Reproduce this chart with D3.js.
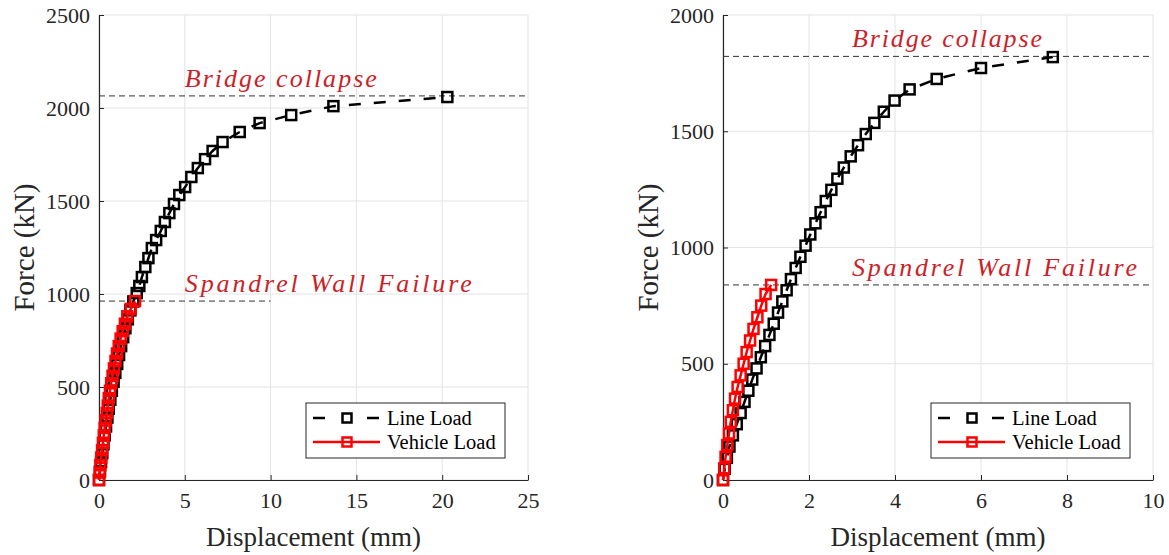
<!DOCTYPE html>
<html><head><meta charset="utf-8">
<script src="https://cdn.jsdelivr.net/npm/d3@7"></script>
<style>body{margin:0;background:#fff} svg{display:block}</style>
</head><body>
<svg id="chart" width="1169" height="555"></svg>
<script>
// ---------- DATA ----------
const seriesNames = ["Line Load", "Vehicle Load"];

// Left panel
const leftLineDisp  = [0,0.06,0.12,0.19,0.26,0.33,0.41,0.49,0.57,0.66,0.75,0.85,0.95,1.06,1.17,1.29,1.41,1.54,1.68,1.83,2.0,2.2,2.35,2.5,2.7,2.88,3.08,3.33,3.6,3.84,4.1,4.37,4.68,5.02,5.38,5.76,6.18,6.62,7.2,8.2,9.36,11.2,13.66,20.3];
const leftLineForce = [0,48,96,144,192,240,288,336,384,432,480,528,576,624,672,720,768,816,864,912,960,1005,1043,1091,1145,1193,1247,1290,1339,1387,1435,1484,1532,1575,1629,1677,1725,1769,1817,1871,1919,1962,2010,2059];
const leftVehDisp   = [0,0.04,0.08,0.13,0.18,0.23,0.28,0.33,0.39,0.45,0.51,0.57,0.64,0.71,0.79,0.87,0.96,1.05,1.15,1.26,1.38,1.51,1.65,1.85,2.1];
const leftVehForce  = [0,40,80,120,160,200,240,280,320,360,400,440,480,520,560,600,640,680,720,760,800,840,880,920,962];

// Right panel
const rightLineDisp  = [0,0.04,0.09,0.15,0.23,0.32,0.41,0.50,0.59,0.68,0.78,0.88,0.98,1.08,1.18,1.28,1.38,1.48,1.58,1.69,1.80,1.92,2.03,2.15,2.27,2.39,2.52,2.66,2.81,2.97,3.14,3.32,3.52,3.74,3.99,4.34,4.97,6.0,7.67];
const rightLineForce = [0,48,96,144,192,240,288,336,384,432,480,528,576,624,672,720,768,816,864,912,960,1008,1056,1104,1152,1200,1248,1296,1344,1392,1440,1488,1536,1584,1632,1680,1725,1772,1819];
const rightVehDisp   = [0,0.03,0.06,0.10,0.14,0.18,0.23,0.28,0.34,0.41,0.48,0.55,0.63,0.71,0.80,0.89,0.99,1.12];
const rightVehForce  = [0,50,100,150,200,250,300,350,400,450,500,550,600,650,700,750,800,839];

// Threshold lines: [force, xStart, xEnd]
const leftThresholds  = [[2065,0,25],[962,0,10]];
const rightThresholds = [[1822,0,10],[839,0,10]];
const annotationTexts = ["Bridge collapse", "Spandrel Wall Failure"];
const leftAnnoX = 5.0, rightAnnoX = 3.0;

// Ticks
const leftXTicks  = [0,5,10,15,20,25];
const leftYTicks  = [0,500,1000,1500,2000,2500];
const rightXTicks = [0,2,4,6,8,10];
const rightYTicks = [0,500,1000,1500,2000];

const xLabel = "Displacement (mm)";
const yLabel = "Force (kN)";

// ---------- DRAW ----------
const svg = d3.select("#chart");
const serif = "'Liberation Serif','Times New Roman',serif";
const annoColor = "#cc1f2a";

const panels = [
  {x0:99, x1:528, y0:480, y1:15, xd:[0,25], yd:[0,2500], xt:leftXTicks, yt:leftYTicks,
   line:[leftLineDisp,leftLineForce], veh:[leftVehDisp,leftVehForce], th:leftThresholds, ax:leftAnnoX,
   annoLen:[192,287]},
  {x0:723, x1:1153, y0:480, y1:15, xd:[0,10], yd:[0,2000], xt:rightXTicks, yt:rightYTicks,
   line:[rightLineDisp,rightLineForce], veh:[rightVehDisp,rightVehForce], th:rightThresholds, ax:rightAnnoX,
   annoLen:[190,285]}
];

panels.forEach(p => {
  const x = d3.scaleLinear().domain(p.xd).range([p.x0, p.x1]);
  const y = d3.scaleLinear().domain(p.yd).range([p.y0, p.y1]);
  const g = svg.append("g");

  // grid
  g.append("g").selectAll("line").data(p.xt).join("line")
    .attr("x1", d => x(d)).attr("x2", d => x(d)).attr("y1", p.y0).attr("y2", p.y1)
    .attr("stroke", "#e3e3e3").attr("stroke-width", 1);
  g.append("g").selectAll("line").data(p.yt).join("line")
    .attr("x1", p.x0).attr("x2", p.x1).attr("y1", d => y(d)).attr("y2", d => y(d))
    .attr("stroke", "#e3e3e3").attr("stroke-width", 1);

  // axes
  const xa = g.append("g").attr("transform", `translate(0,${p.y0})`)
    .call(d3.axisBottom(x).tickValues(p.xt).tickSizeInner(-5).tickSizeOuter(0).tickPadding(12));
  const ya = g.append("g").attr("transform", `translate(${p.x0},0)`)
    .call(d3.axisLeft(y).tickValues(p.yt).tickSizeInner(-5).tickSizeOuter(0).tickPadding(9).tickFormat(d3.format("d")));
  [xa, ya].forEach(a => {
    a.select(".domain").attr("stroke", "#262626").attr("stroke-width", 1.2);
    a.selectAll(".tick line").attr("stroke", "#262626");
    a.selectAll("text").attr("font-family", serif).attr("font-size", 22).attr("fill", "#262626");
  });
  xa.selectAll("text").attr("dy", "0.71em");

  // axis titles
  g.append("text").attr("x", (p.x0 + p.x1) / 2).attr("y", 546).attr("text-anchor", "middle")
    .attr("font-family", serif).attr("font-size", 27).attr("fill", "#262626").text(xLabel);
  g.append("text").attr("transform", `translate(${p.x0 - 65},${(p.y0 + p.y1) / 2}) rotate(-90)`)
    .attr("text-anchor", "middle").attr("font-family", serif).attr("font-size", 29).attr("fill", "#262626").text(yLabel);

  // thresholds
  g.append("g").selectAll("line").data(p.th).join("line")
    .attr("x1", d => x(d[1])).attr("x2", d => x(d[2])).attr("y1", d => y(d[0])).attr("y2", d => y(d[0]))
    .attr("stroke", "#333").attr("stroke-width", 1).attr("stroke-dasharray", "6,4");
  g.append("g").selectAll("text").data(p.th).join("text")
    .attr("x", x(p.ax)).attr("y", d => y(d[0]) - 9)
    .attr("font-family", serif).attr("font-style", "italic").attr("font-size", 26).attr("fill", annoColor)
    .attr("textLength", (d, i) => p.annoLen[i]).attr("lengthAdjust", "spacing")
    .text((d, i) => annotationTexts[i]);

  const lineGen = d3.line().x(d => x(d[0])).y(d => y(d[1]));
  const drawSeries = (arr, color, dash) => {
    const pts = arr[0].map((v, i) => [v, arr[1][i]]);
    g.append("path").datum(pts).attr("d", lineGen).attr("fill", "none")
      .attr("stroke", color).attr("stroke-width", 2.5).attr("stroke-dasharray", dash);
    g.append("g").selectAll("rect").data(pts).join("rect")
      .attr("x", d => x(d[0]) - 5).attr("y", d => y(d[1]) - 5).attr("width", 10).attr("height", 10)
      .attr("fill", "none").attr("stroke", color).attr("stroke-width", 2.5);
  };
  drawSeries(p.line, "#000", "12,13");
  drawSeries(p.veh, "#ff0000", null);

  // legend
  const lx = p.x1 - 222, ly = p.y0 - 77;
  const lg = g.append("g").attr("transform", `translate(${lx},${ly})`);
  lg.append("rect").attr("x", 0).attr("y", 0).attr("width", 199).attr("height", 55)
    .attr("fill", "#fff").attr("stroke", "#262626").attr("stroke-width", 1);
  const entries = [{c:"#000", dash:"12,42"}, {c:"#ff0000", dash:null}];
  entries.forEach((e, i) => {
    const cy = 15 + i * 24;
    lg.append("line").attr("x1", 7).attr("x2", 74).attr("y1", cy).attr("y2", cy)
      .attr("stroke", e.c).attr("stroke-width", 2.5).attr("stroke-dasharray", e.dash);
    lg.append("rect").attr("x", 41 - 4.5).attr("y", cy - 4.5).attr("width", 9).attr("height", 9)
      .attr("fill", "none").attr("stroke", e.c).attr("stroke-width", 2.5);
    lg.append("text").attr("x", 81).attr("y", cy + 7).attr("font-family", serif).attr("font-size", 20.5)
      .attr("fill", "#000").text(seriesNames[i]);
  });
});
</script>
</body></html>
